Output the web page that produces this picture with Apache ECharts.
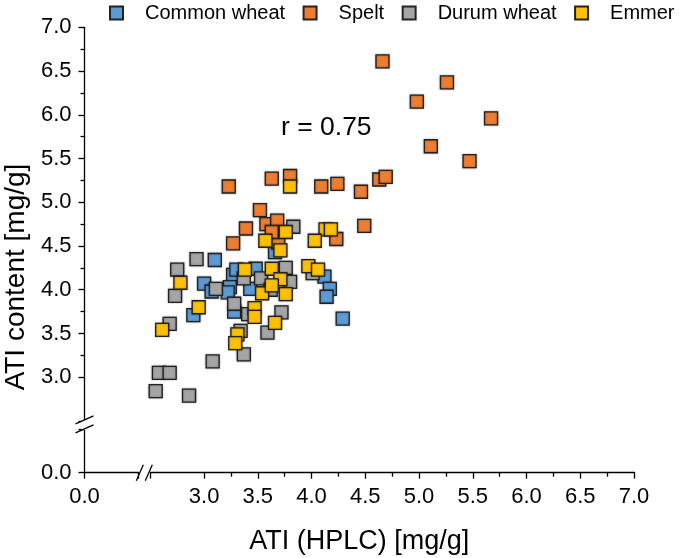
<!DOCTYPE html>
<html><head><meta charset="utf-8">
<script src="https://cdn.jsdelivr.net/npm/echarts@6/dist/echarts.min.js"></script>
<style>html,body{margin:0;padding:0;background:#fff}#c{width:688px;height:558px}</style>
</head><body><div id="c"></div>
<script>
const seriesNames = ['Common wheat', 'Spelt', 'Durum wheat', 'Emmer'];
const commonWheat = [[3.10,4.34],[3.00,4.07],[3.07,3.98],[3.27,4.17],[3.24,4.03],[3.22,3.97],[3.48,4.24],[3.43,4.01],[3.30,4.23],[3.28,3.75],[2.90,3.71],[3.66,4.43],[4.12,4.15],[4.17,4.01],[4.14,3.92],[4.29,3.67]];
const spelt = [[4.66,6.61],[5.26,6.37],[4.98,6.15],[5.67,5.96],[5.11,5.64],[5.47,5.47],[4.24,5.21],[4.46,5.12],[4.63,5.26],[4.69,5.29],[4.49,4.73],[4.23,4.58],[3.23,5.18],[3.63,5.27],[3.80,5.30],[4.09,5.18],[3.52,4.91],[3.58,4.75],[3.68,4.79],[3.39,4.70],[3.27,4.53],[3.69,4.54],[3.63,4.66]];
const durumWheat = [[3.83,4.72],[2.93,4.35],[2.75,4.23],[3.37,4.13],[3.53,4.13],[3.76,4.25],[3.80,4.09],[2.73,3.93],[3.11,4.01],[3.28,3.84],[3.41,3.72],[3.72,3.74],[2.68,3.61],[3.34,3.53],[3.59,3.51],[3.37,3.26],[3.08,3.18],[2.58,3.05],[2.68,3.05],[2.55,2.84],[2.86,2.79],[4.01,4.19],[3.62,4.00]];
const emmer = [[3.80,5.18],[4.13,4.69],[4.18,4.69],[4.03,4.56],[3.76,4.66],[3.57,4.56],[3.71,4.45],[3.38,4.23],[3.63,4.24],[3.71,4.12],[3.54,3.96],[3.76,3.95],[3.97,4.27],[4.06,4.23],[2.78,4.08],[2.95,3.80],[2.61,3.54],[3.47,3.79],[3.47,3.69],[3.66,3.62],[3.31,3.49],[3.29,3.39],[3.63,4.05]];
const colors = ['#5B9BD5', '#ED7D31', '#A5A5A5', '#FFC000'];
const axisMin = 0, axisMax = 7, tickStep = 0.5;
const breakStart = 0.5, breakEnd = 2.5;
const annotation = 'r = 0.75';

const FONT = 'Liberation Sans, Arial, sans-serif';
const chart = echarts.init(document.getElementById('c'));
const labelFmt = v => (v > 0.01 && v < 2.99) ? '' : v.toFixed(1);
function axisCommon(gap) {
  return {
    type: 'value', min: axisMin, max: axisMax, interval: tickStep,
    breaks: [{ start: breakStart, end: breakEnd, gap: gap }],
    breakArea: { show: false },
    axisLine: { show: true, onZero: false, lineStyle: { color: '#000', width: 1.3 } },
    axisTick: { show: true, length: 6, lineStyle: { color: '#000', width: 1.3 } },
    minorTick: { show: true, splitNumber: 2, length: 4, lineStyle: { color: '#000', width: 1.3 } },
    splitLine: { show: false },
    nameLocation: 'middle'
  };
}
const datasets = [commonWheat, spelt, durumWheat, emmer];
const annotationText = { type: 'text', left: 281, top: 114, style: { text: annotation, fontSize: 26.5, fontFamily: FONT, fill: '#000' } };
const option = {
  animation: false,
  backgroundColor: '#fff',
  grid: { left: 84.5, right: 54, top: 27.3, bottom: 85.3, containLabel: false, outerBoundsMode: 'none' },
  legend: {
    top: 0, left: 104, padding: [3, 5, 3, 5], itemWidth: 13, itemHeight: 13, itemGap: 17.5, icon: 'rect',
    textStyle: { fontSize: 20, fontFamily: FONT, color: '#000', padding: [0, 0, 0, 17] },
    data: seriesNames
  },
  xAxis: Object.assign(axisCommon('2.2%'), {
    name: 'ATI (HPLC) [mg/g]', nameGap: 55,
    nameTextStyle: { color: '#000', fontSize: 27, fontFamily: FONT },
    axisLabel: { color: '#000', fontSize: 22, fontFamily: FONT, formatter: labelFmt, margin: 13 }
  }),
  yAxis: Object.assign(axisCommon('1.8%'), {
    name: 'ATI content [mg/g]', nameGap: 49,
    nameTextStyle: { color: '#000', fontSize: 28, fontFamily: FONT, padding: [0, 54, 0, 0] },
    axisLabel: { color: '#000', fontSize: 22, fontFamily: FONT, formatter: labelFmt, margin: 13 }
  }),
  series: seriesNames.map((n, i) => ({
    name: n, type: 'scatter', symbol: 'rect', symbolSize: 13,
    data: datasets[i],
    itemStyle: { color: colors[i], borderColor: '#222', borderWidth: 1.3, shadowBlur: 2, shadowColor: 'rgba(0,0,0,0.35)', opacity: 1 },
    emphasis: { disabled: true }
  })),
  graphic: [annotationText]
};
chart.setOption(option);

// break marks on axes
try {
  const xa = chart.convertToPixel({ xAxisIndex: 0 }, breakStart);
  const xb = chart.convertToPixel({ xAxisIndex: 0 }, breakEnd);
  const ya = chart.convertToPixel({ yAxisIndex: 0 }, breakStart);
  const yb = chart.convertToPixel({ yAxisIndex: 0 }, breakEnd);
  const x0 = chart.convertToPixel({ xAxisIndex: 0 }, axisMin);
  const y0 = chart.convertToPixel({ yAxisIndex: 0 }, axisMin);
  const xm = (xa + xb) / 2, ym = (ya + yb) / 2;
  const ls = { stroke: '#000', lineWidth: 1.3 };
  chart.setOption({ graphic: [
    annotationText,
    { type: 'rect', shape: { x: xm - 5, y: y0 - 3, width: 10, height: 6 }, style: { fill: '#fff' }, z: 100 },
    { type: 'line', shape: { x1: xm - 8, y1: y0 + 8, x2: xm - 1, y2: y0 - 8 }, style: ls, z: 101 },
    { type: 'line', shape: { x1: xm + 1, y1: y0 + 8, x2: xm + 8, y2: y0 - 8 }, style: ls, z: 101 },
    { type: 'rect', shape: { x: x0 - 3, y: ym - 5, width: 6, height: 10 }, style: { fill: '#fff' }, z: 100 },
    { type: 'line', shape: { x1: x0 - 9, y1: ym - 1, x2: x0 + 9, y2: ym - 9 }, style: ls, z: 101 },
    { type: 'line', shape: { x1: x0 - 9, y1: ym + 8, x2: x0 + 9, y2: ym }, style: ls, z: 101 }
  ] });
} catch (e) { console.log(e); }
</script>
</body></html>
